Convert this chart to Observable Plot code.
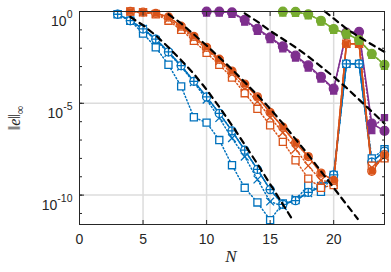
<!DOCTYPE html>
<html><head><meta charset="utf-8">
<script src="https://cdn.jsdelivr.net/npm/d3@7"></script>
<script src="https://cdn.jsdelivr.net/npm/@observablehq/plot@0.6"></script>
<style>body{margin:0;background:#fff}</style>
</head><body><div id="chart"></div>
<script>
// x ticks and y ticks
const xTicks = [0, 5, 10, 15, 20];
const yLabelExps = [0, -5, -10];
const yMinorExps = [0, -1, -2, -3, -4, -5, -6, -7, -8, -9, -10, -11];

// Blue group (log10 of error)
const blueN = [3,4,5,6,7,8,9,10,11,12,13,14,15,16,17,18,19,20,21,22,23,24];
const blueCircle = [-0.15,-0.5,-0.95,-1.5,-2.2,-2.95,-3.8,-4.65,-5.55,-6.5,-7.55,-8.6,-9.7,-10.5,-10.3,-9.85,-9.55,-8.9,-2.85,-2.85,-8.2,-7.6];
const blueCross = [-0.15,-0.5,-0.95,-1.55,-2.25,-3.0,-3.85,-4.8,-5.8,-6.9,-7.9,-9.15,-10.35,-10.6,-10.2,-9.9,-9.5,-9.0,-2.85,-2.85,-8.4,-7.9];
const blueSquare = [-0.15,-0.5,-1.2,-1.95,-2.9,-4.08,-5.76,-6.05,-7.0,-8.37,-9.6,-10.4,-11.36,-10.45,-10.27,-9.46,-9.82,-8.9,-2.85,-2.85,-8.0,-7.5];

// Orange group
const orangeN = [4,5,6,7,8,9,10,11,12,13,14,15,16,17,18,19,20,21,22,23,24];
const orangeCircle = [0,-0.03,-0.1,-0.3,-0.8,-1.35,-1.95,-2.6,-3.25,-3.95,-4.65,-5.5,-6.3,-7.15,-7.9,-8.8,-9.2,-1.76,-1.76,-8.7,-7.8];
const orangeCross = [0,-0.04,-0.12,-0.4,-0.9,-1.45,-2.05,-2.7,-3.4,-4.15,-4.9,-5.75,-6.6,-7.5,-8.4,-9.2,-9.3,-1.76,-1.76,-8.5,-7.9];
const orangeSquare = [0,-0.05,-0.15,-0.5,-1.0,-1.6,-2.25,-2.9,-3.6,-4.45,-5.3,-6.2,-7.1,-8.1,-9.1,-9.6,-9.45,-1.76,-1.76,-8.4,-8.0];

// Purple group
const purpleN = [10,11,12,13,14,15,16,17,18,19,20,21,22,23,24];
const purpleCircle = [0,0,-0.05,-0.45,-0.94,-1.4,-1.9,-2.4,-2.93,-3.55,-4.2,-1.15,-1.1,-6.1,-6.5];
const purpleSquare = [0,0,-0.07,-0.5,-1.0,-1.45,-1.95,-2.45,-3.0,-3.6,-4.25,-1.2,-1.15,-6.4,-5.7];

// Green group
const greenN = [16,17,18,19,20,21,22,23,24];
const greenCircle = [0,-0.02,-0.15,-0.5,-0.95,-1.2,-1.55,-2.3,-2.9];

// Dashed reference curves
const refBlueN = [4,5,6,7,8,9,10,11,12,13,14,15,16,16.7];
const refBlue = [-0.3,-0.75,-1.3,-1.95,-2.65,-3.4,-4.25,-5.2,-6.2,-7.25,-8.3,-9.4,-10.5,-11.27];
const refOrangeN = [7,8,9,10,11,12,13,14,15,16,17,18,19,20,21,21.9];
const refOrange = [-0.15,-0.65,-1.25,-1.85,-2.5,-3.15,-3.85,-4.55,-5.3,-6.1,-6.95,-7.8,-8.7,-9.6,-10.5,-11.3];
const refPurpleN = [13,14,15,16,17,18,19,20,21,22,23,24];
const refPurple = [-0.1,-0.55,-1.05,-1.5,-1.95,-2.45,-3.0,-3.55,-4.15,-4.8,-5.45,-6.1];
const refGreenN = [19.3,20,21,22,23,24];
const refGreen = [0,-0.38,-0.93,-1.38,-1.8,-2.2];

const BLUE = "#0072BD", ORANGE = "#D95319", PURPLE = "#7E2F8E", GREEN = "#77AC30";
const rows = (N, v) => N.map((n, i) => ({N: n, val: Math.pow(10, v[i])}));
const DOT = "1.2,2.3";

const series = [
  {N: blueN, v: blueSquare, color: BLUE, sym: "square", r: 4, fill: "white", dash: DOT},
  {N: blueN, v: blueCross, color: BLUE, sym: "times", r: 3.6, fill: "none", dash: DOT},
  {N: blueN, v: blueCircle, color: BLUE, sym: "circle", r: 4, fill: "white", dash: DOT},
  {N: blueN, v: blueCircle, color: BLUE, sym: "plus", r: 3, fill: "none", dash: null},
  {N: orangeN, v: orangeSquare, color: ORANGE, sym: "square", r: 4, fill: "white", dash: DOT},
  {N: orangeN, v: orangeCross, color: ORANGE, sym: "times", r: 3.6, fill: "none", dash: DOT},
  {N: orangeN, v: orangeCircle, color: ORANGE, sym: "circle", r: 4, fill: "white", dash: DOT},
  {N: orangeN, v: orangeCircle, color: ORANGE, sym: "square", r: 3, fill: ORANGE, dash: null},
  {N: purpleN, v: purpleSquare, color: PURPLE, sym: "square", r: 3.4, fill: PURPLE, dash: DOT, dy: 1.5},
  {N: purpleN, v: purpleCircle, color: PURPLE, sym: "circle", r: 4.4, fill: PURPLE, dash: null},
  {N: greenN, v: greenCircle, color: GREEN, sym: "square", r: 3.4, fill: GREEN, dash: DOT, dy: 1.5},
  {N: greenN, v: greenCircle, color: GREEN, sym: "circle", r: 4.4, fill: GREEN, dash: null}
];
const refs = [[refBlueN, refBlue], [refOrangeN, refOrange], [refPurpleN, refPurple], [refGreenN, refGreen]];

const marks = [
  Plot.gridX(xTicks.slice(1), {stroke: "#dcdcdc", strokeOpacity: 1, strokeWidth: 1.5}),
  Plot.gridY(yLabelExps.slice(1).map(e => Math.pow(10, e)), {stroke: "#dcdcdc", strokeOpacity: 1, strokeWidth: 1.5})
];
for (const s of series) {
  marks.push(Plot.line(rows(s.N, s.v), {x: "N", y: "val", stroke: s.color, strokeWidth: 1.5, strokeDasharray: s.dash}));
}
for (const s of series) {
  marks.push(Plot.dot(rows(s.N, s.v), {x: "N", y: "val", symbol: s.sym, r: s.r, stroke: s.color, fill: s.fill, strokeWidth: 1.3, dy: s.dy || 0}));
}
for (const [N, v] of refs) {
  marks.push(Plot.line(rows(N, v), {x: "N", y: "val", stroke: "black", strokeWidth: 2.2, strokeDasharray: "6,5"}));
}
const majorY = yLabelExps.map(e => Math.pow(10, e));
const minorY = yMinorExps.map(e => Math.pow(10, e));
marks.push(
  Plot.frame({stroke: "#262626", strokeWidth: 1}),
  Plot.axisX(xTicks, {anchor: "bottom", tickSize: 0, tickPadding: 10, label: null, fontSize: 14}),
  Plot.axisX(xTicks, {anchor: "bottom", tickSize: -4, tickFormat: () => "", label: null}),
  Plot.axisX(xTicks, {anchor: "top", tickSize: -4, tickFormat: () => "", label: null}),
  Plot.axisY(majorY, {anchor: "left", tickSize: 0, tickPadding: 7, tickFormat: d => String(Math.round(Math.log10(d))), label: null, fontSize: 14}),
  Plot.axisY(minorY, {anchor: "left", tickSize: -3, tickFormat: () => "", label: null}),
  Plot.axisY(majorY, {anchor: "left", tickSize: -5, tickFormat: () => "", label: null}),
  Plot.axisY(minorY, {anchor: "right", tickSize: -3, tickFormat: () => "", label: null}),
  Plot.axisY(majorY, {anchor: "right", tickSize: -5, tickFormat: () => "", label: null})
);

const chart = Plot.plot({
  width: 391, height: 272,
  marginLeft: 79, marginRight: 7, marginTop: 11, marginBottom: 48,
  x: {domain: [0, 24], label: null},
  y: {type: "log", domain: [Math.pow(10, -11.6), 1], label: null},
  style: {fontFamily: "'Liberation Sans', Arial, sans-serif", fontSize: "14px", background: "white", color: "#262626", overflow: "visible"},
  marks
});
document.getElementById("chart").appendChild(chart);

const svg = d3.select(chart);
svg.selectAll('g[aria-label="y-axis tick label"] text, g[aria-label="x-axis tick label"] text').each(function () {
  const t = d3.select(this);
  if (t.text().trim() === "") t.remove();
});
svg.selectAll('g[aria-label="y-axis tick label"] text').each(function () {
  const t = d3.select(this);
  const e = t.text();
  t.text(null).attr("dy", null);
  t.append("tspan").attr("dy", "10").text("10");
  t.append("tspan").attr("dy", "-8").attr("font-size", "10.5").text(e.replace("\u2212", "-"));
});
// axis titles
const yl = svg.append("text")
  .attr("transform", "translate(20,118) rotate(-90)")
  .attr("text-anchor", "middle")
  .attr("font-family", "'Liberation Serif', 'Times New Roman', serif")
  .attr("font-size", 16).attr("fill", "#262626");
yl.append("tspan").text("\u2016");
yl.append("tspan").attr("font-style", "italic").text("e");
yl.append("tspan").text("\u2016");
yl.append("tspan").attr("dy", "4").attr("font-size", 12).text("\u221E");
svg.append("text")
  .attr("x", 231).attr("y", 262)
  .attr("text-anchor", "middle")
  .attr("font-family", "'Liberation Serif', 'Times New Roman', serif")
  .attr("font-style", "italic")
  .attr("font-size", 17).attr("fill", "#262626")
  .text("N");
</script>
</body></html>
